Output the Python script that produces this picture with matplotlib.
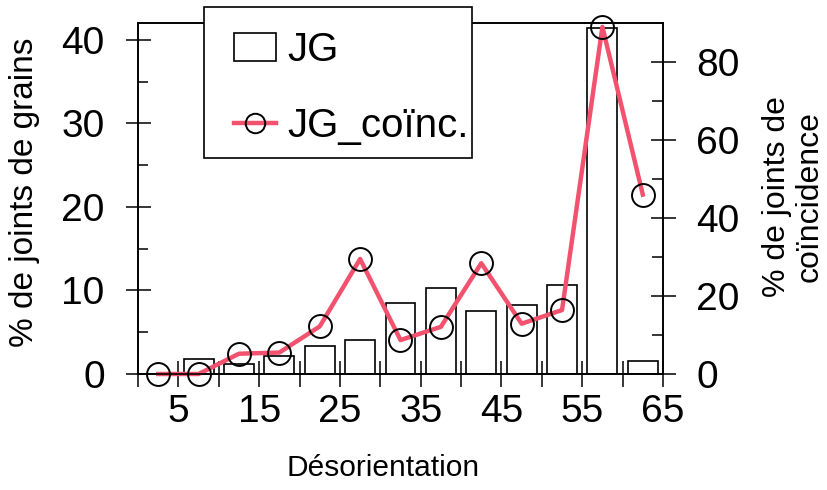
"""
Distribution des joints de grains et joints de coincidence vs desorientation.
"""

import matplotlib
matplotlib.use("Agg")
import matplotlib.pyplot as plt
from matplotlib.patches import Rectangle
from matplotlib.ticker import MultipleLocator, FixedLocator

plt.rcParams["font.family"] = ["Liberation Sans", "DejaVu Sans"]

# desorientation classes (centre of 5 deg bins)
angles = [2.5, 7.5, 12.5, 17.5, 22.5, 27.5, 32.5, 37.5, 42.5, 47.5, 52.5, 57.5, 62.5]
jg = [0, 1.8, 1.2, 2.1, 3.4, 4.1, 8.5, 10.3, 7.5, 8.3, 10.6, 41.4, 1.5]
jg_coinc = [0, 0, 5.2, 5.5, 12.2, 29.5, 8.7, 12.1, 28.4, 12.9, 16.4, 89, 46]
xticklabels = ["5", "15", "25", "35", "45", "55", "65"]

W, H = 827, 490
fig = plt.figure(figsize=(W / 100, H / 100), dpi=100)
ax = fig.add_axes([138 / W, 1 - 374 / H, 525 / W, 351 / H])
ax2 = ax.twinx()

bars = ax.bar(angles, jg, width=3.7, facecolor="white", edgecolor="black",
              linewidth=1.2, label="JG")
line, = ax2.plot(angles, jg_coinc, color="#f2526e", linewidth=3.2,
                 marker="o", markersize=16.5, markerfacecolor="none",
                 markeredgecolor="black", markeredgewidth=1.4,
                 label="JG_coïnc.", clip_on=False)

ax.set_xlim(0, 65)
ax.set_ylim(0, 42)
ax2.set_ylim(0, 90)

for a in (ax, ax2):
    for s in a.spines.values():
        s.set_linewidth(1.2)

ax.xaxis.set_major_locator(FixedLocator([5, 15, 25, 35, 45, 55, 65]))
ax.set_xticklabels(xticklabels)
ax.xaxis.set_minor_locator(FixedLocator([0, 10, 20, 30, 40, 50, 60]))
ax.tick_params(axis="x", which="both", direction="inout", length=19, width=1.1,
               labelsize=28, pad=5)

ax.yaxis.set_major_locator(MultipleLocator(10))
ax.yaxis.set_minor_locator(FixedLocator([5, 15, 25, 35]))
ax.tick_params(axis="y", which="major", direction="inout", length=18, width=1.1,
               labelsize=28, pad=15)
ax.tick_params(axis="y", which="minor", direction="in", length=7, width=1.1)

ax2.yaxis.set_major_locator(MultipleLocator(20))
ax2.yaxis.set_minor_locator(FixedLocator([10, 30, 50, 70]))
ax2.tick_params(axis="y", which="major", direction="inout", length=18, width=1.1,
                labelsize=28, pad=15)
ax2.tick_params(axis="y", which="minor", direction="in", length=8, width=1.1)

fig.text(383 / W, 1 - 468 / H, "Désorientation", fontsize=21.5,
         ha="center", va="center")
fig.text(25 / W, 1 - 192 / H, "% de joints de grains", fontsize=24,
         rotation=90, ha="center", va="center")
fig.text(793 / W, 1 - 197 / H, "% de joints de\ncoïncidence", fontsize=23,
         rotation=90, ha="center", va="center", linespacing=1.1,
         multialignment="center")

# legend box overlaps the top of the frame
fig.patches.append(Rectangle((204 / W, 1 - 158 / H), 268 / W, 151 / H,
                             transform=fig.transFigure, facecolor="white",
                             edgecolor="black", linewidth=1.2, zorder=4))
leg = fig.legend(handles=[bars, line], loc="upper left",
                 bbox_to_anchor=(234 / W, 1 - 31 / H),
                 fontsize=29, frameon=False, borderaxespad=0, borderpad=0,
                 handlelength=1.05, handletextpad=0.28, labelspacing=0.95,
                 markerscale=0.85)
leg.set_zorder(5)

plt.savefig("out.png", dpi=100)
